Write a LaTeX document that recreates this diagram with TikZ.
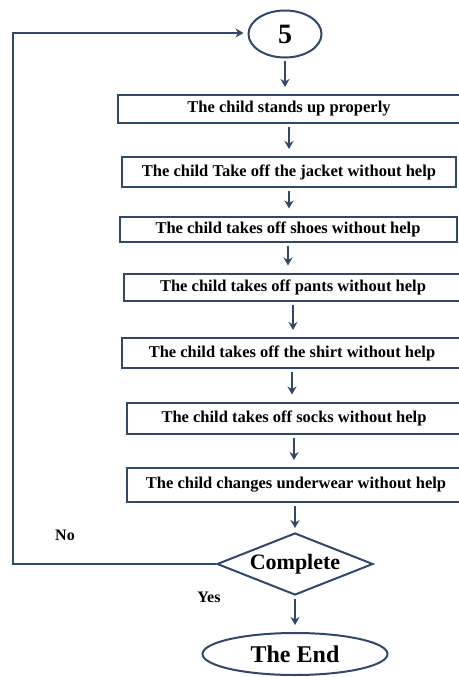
\documentclass[tikz,border=0pt]{standalone}
\usepackage{fontspec}
\setmainfont{Liberation Serif}
\usetikzlibrary{arrows.meta,shapes.geometric}
\definecolor{navy}{RGB}{47,72,108}
\tikzset{
  stepbox/.style={draw=navy, line width=2pt, minimum height=28pt, inner sep=0pt,
    font=\bfseries\fontsize{16.5}{18}\selectfont},
  flow/.style={navy, line width=2.6pt, -{Stealth[length=8pt,width=9pt]}, shorten <=3pt, shorten >=7pt},
}

\begin{document}
\begin{tikzpicture}[x=1pt,y=-1pt]
  \useasboundingbox (0,0) rectangle (458,677);
  \node[ellipse, draw=navy, line width=2pt, minimum width=73pt, minimum height=47pt,
    font=\bfseries\fontsize{28}{30}\selectfont] (start) at (285,34) {5};
  \node[stepbox, minimum width=342pt] (s1) at (289,109) {The child stands up properly};
  \node[stepbox, minimum width=334pt, minimum height=30pt] (s2) at (289,172) {The child Take off the jacket without help};
  \node[stepbox, minimum width=337pt, minimum height=25pt] (s3) at (288,229) {The child takes off shoes without help};
  \node[stepbox, minimum width=338pt, minimum height=27pt] (s4) at (293,287) {The child takes off pants without help};
  \node[stepbox, minimum width=340pt, minimum height=30pt] (s5) at (292,353) {The child takes off the shirt without help};
  \node[stepbox, minimum width=334pt, minimum height=31pt] (s6) at (294,418) {The child takes off socks without help};
  \node[stepbox, minimum width=338pt, minimum height=34pt] (s7) at (296,485) {The child changes underwear without help};
  \node[diamond, draw=navy, line width=2pt, aspect=2.5, minimum width=156pt, minimum height=62pt,
    inner sep=0pt, font=\bfseries\fontsize{22}{24}\selectfont] (check) at (295,564) {Complete};
  \node[ellipse, draw=navy, line width=2pt, minimum width=185pt, minimum height=42pt,
    font=\bfseries\fontsize{24}{26}\selectfont] (end) at (295,654) {The End};
  \node[font=\bfseries\fontsize{16}{18}\selectfont] (no) at (65,535) {No};
  \node[font=\bfseries\fontsize{16}{18}\selectfont] (yes) at (209,597) {Yes};
  \coordinate (loop) at (13,33);

  \draw[flow] (start) -- (start |- s1.north);
  \draw[flow] (s1.south) -- (s2.north -| s1.south);
  \draw[flow] (s2.south) -- (s3.north -| s2.south);
  \draw[flow] (s3.south) -- (s4.north -| s3.south);
  \draw[flow] (s4.south) -- (s5.north -| s4.south);
  \draw[flow] (s5.south) -- (s6.north -| s5.south);
  \draw[flow] (s6.south) -- (s7.north -| s6.south);
  \draw[flow, shorten >=4pt] (s7.south -| check) -- (check);
  \draw[flow] (check) -- (end);
  \draw[flow, shorten <=0pt, shorten >=4pt] (check.west) -| (loop) -- (loop -| start.west);
\end{tikzpicture}
\end{document}
